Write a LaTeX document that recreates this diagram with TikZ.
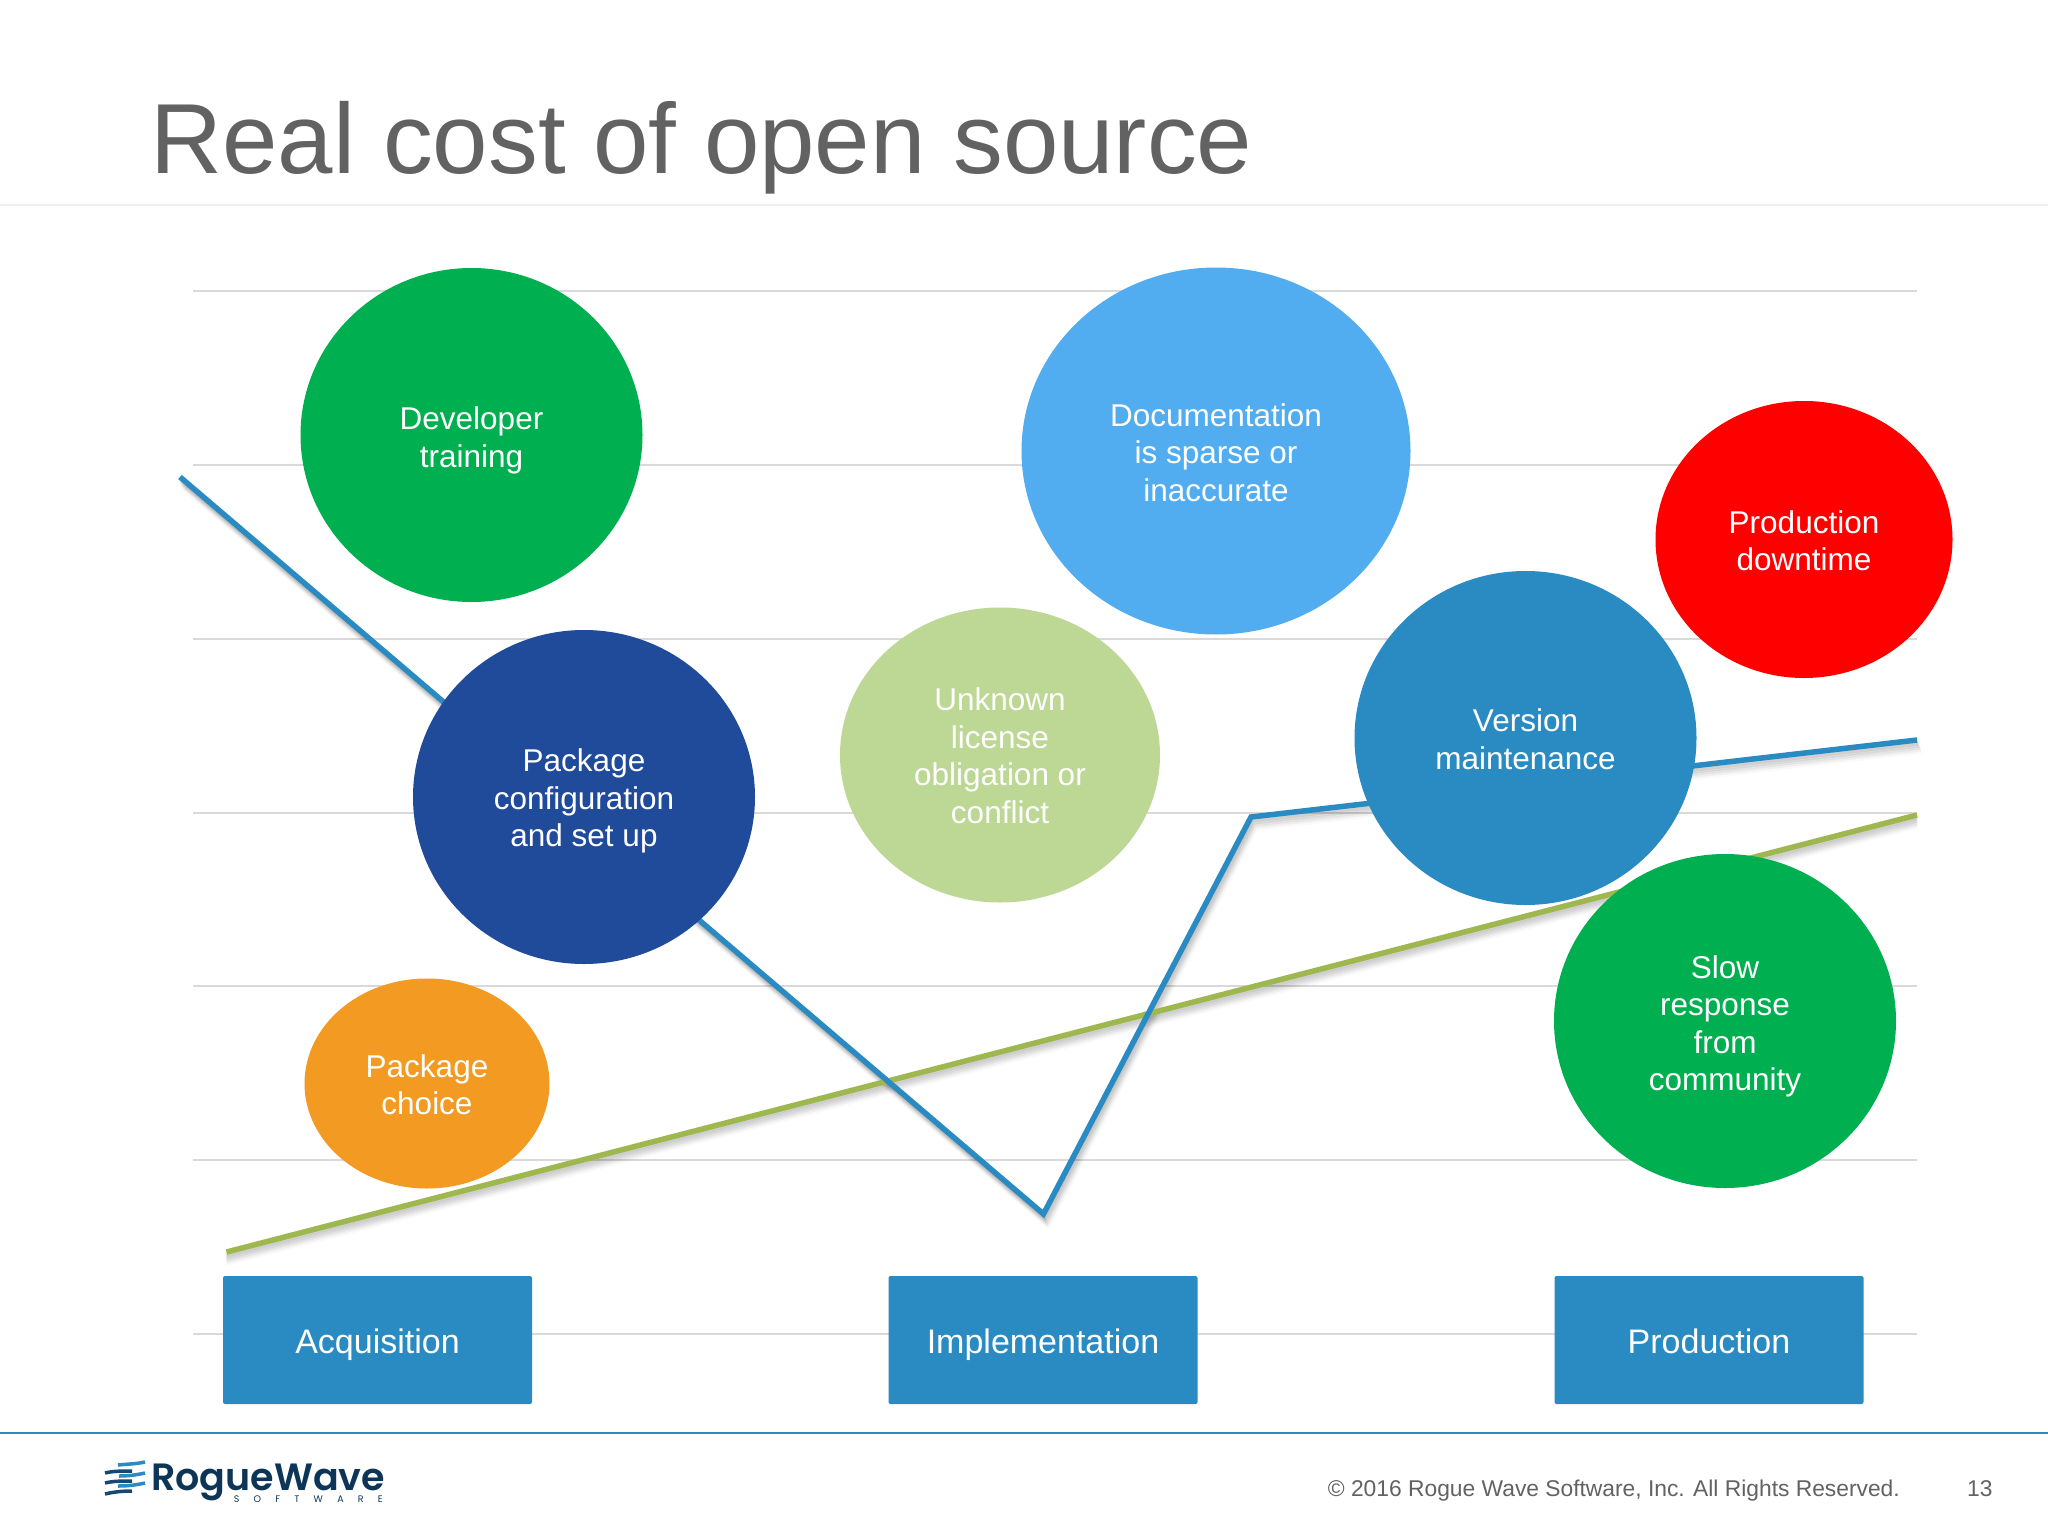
\documentclass[tikz,border=0pt]{standalone}
\usepackage{fontspec}
\usepackage{xcolor}
\usetikzlibrary{shapes.geometric}
\setmainfont{Liberation Sans}
\newfontfamily\logofont[BoldFont={Poppins SemiBold}]{Poppins}
\newfontfamily\logosmall[LetterSpace=150]{Poppins}
\definecolor{titlegray}{HTML}{626262}
\definecolor{rulegray}{HTML}{D9D9D9}
\definecolor{wavebar}{HTML}{2A8BC3}
\definecolor{wavedark}{HTML}{0D3557}
\definecolor{trendgreen}{HTML}{9EB84F}
\definecolor{bubblegreen}{HTML}{00B050}
\definecolor{bubblenavy}{HTML}{204A9A}
\definecolor{bubbleorange}{HTML}{F39A23}
\definecolor{bubblelime}{HTML}{BDD795}
\definecolor{bubblesky}{HTML}{51ACF0}
% taller first line, pushes a bubble's text down a little
\newcommand{\topstrut}[1]{\rule{0pt}{#1pt}}
\tikzset{
  bubble/.style={ellipse,inner sep=0pt,text=white,align=center,
    font=\fontsize{31.5}{37.5}\selectfont},
  stagebox/.style={rectangle,rounded corners=2pt,fill=wavebar,text=white,inner sep=0pt,
    text height=30pt,text depth=4pt,
    minimum width=309pt,minimum height=128pt,font=\fontsize{34}{40}\selectfont},
  gridrule/.style={rulegray,line width=2pt},
  trendline/.style={line width=5.5pt,line join=miter},
  footertext/.style={text=titlegray,inner sep=0pt,font=\fontsize{22.8}{26}\selectfont},
  wavelight/.style={wavebar,line width=3.5pt},
  wavedeep/.style={wavedark!75!wavebar,line width=3.5pt}
}
\begin{document}
\begin{tikzpicture}[x=1pt,y=-1pt]
  \useasboundingbox (0,0) rectangle (2048,1536);
  \fill[white] (0,0) rectangle (2048,1536);
  % title and the rule under it
  \node[anchor=base west,inner sep=0pt,text=titlegray,font=\fontsize{99.6}{110}\selectfont] (title) at (150.5,173) {Real cost of open source};
  \draw[gray!12,line width=2pt] (0,205) -- (2048,205);
  % chart rules
  \foreach \y in {291,464.5,639,812.5,986,1160,1333.5}
    \draw[gridrule] (193,\y) -- (1917,\y);
  % points of the two trend lines
  \coordinate (greenstart) at (226.5,1252);
  \coordinate (greenend) at (1917,815);
  \coordinate (bluestart) at (180,477);
  \coordinate (bluelow) at (1043.5,1214);
  \coordinate (bluekink) at (1251,817);
  \coordinate (blueend) at (1917,740);
  % soft shadows, then the lines
  \foreach \drop/\fade in {1.5/.05,3/.07,5/.07,7/.05,9/.04,11/.02} {
    \draw[trendline,black,opacity=\fade,transform canvas={yshift=-\drop pt}] (greenstart) -- (greenend);
    \draw[trendline,black,opacity=\fade,transform canvas={yshift=-\drop pt,xshift=.4*\drop pt}] (bluestart) -- (bluelow) -- (bluekink) -- (blueend);
  }
  \draw[trendline,trendgreen] (greenstart) -- (greenend);
  \draw[trendline,wavebar] (bluestart) -- (bluelow) -- (bluekink) -- (blueend);
  % bubbles
  \node[bubble,fill=bubblegreen,minimum width=342pt,minimum height=334pt] (training) at (471.5,435) {\topstrut{33.4}Developer\\training};
  \node[bubble,fill=bubblenavy,minimum width=342pt,minimum height=334pt] (config) at (584,797) {\topstrut{30.8}Package\\configuration\\and set up};
  \node[bubble,fill=bubbleorange,minimum width=245pt,minimum height=210pt] (choice) at (427,1083.5) {\topstrut{25.6}Package\\choice};
  \node[bubble,fill=bubblelime,minimum width=320pt,minimum height=295pt] (license) at (1000,755) {\topstrut{24.3}Unknown\\license\\obligation or\\conflict};
  \node[bubble,fill=bubblesky,minimum width=389pt,minimum height=367pt] (docs) at (1216,451) {\topstrut{25.6}Documentation\\is sparse or\\inaccurate};
  \node[bubble,fill=red,minimum width=297pt,minimum height=277pt] (downtime) at (1804,539.5) {\topstrut{25.6}Production\\downtime};
  \node[bubble,fill=wavebar,minimum width=342pt,minimum height=334pt] (version) at (1525.5,738) {\topstrut{25.6}Version\\maintenance};
  \node[bubble,fill=bubblegreen,minimum width=342pt,minimum height=334pt] (community) at (1725,1021) {\topstrut{33.4}Slow\\response\\from\\community};
  % stages
  \node[stagebox] (acquisition) at (377.5,1340) {Acquisition};
  \node[stagebox] (implementation) at (1043,1340) {Implementation};
  \node[stagebox] (production) at (1709,1340) {Production};
  % footer
  \draw[wavebar,line width=2pt] (0,1433) -- (2048,1433);
  \node[footertext,anchor=base east] (copyright) at (1900,1496) {\textcopyright{} 2016 Rogue Wave Software, Inc. All Rights Reserved.};
  \node[footertext,anchor=base west] (pagenumber) at (1967,1496) {13};
  % logo
  \draw[wavelight] (118,1465) .. controls (128,1464) and (136,1464) .. (145,1462);
  \draw[wavedeep] (105,1473) .. controls (113,1471) and (122,1471) .. (132,1471);
  \draw[wavelight] (119,1476) .. controls (128,1476) and (136,1475) .. (145,1473);
  \draw[wavedeep] (105,1483) .. controls (113,1481) and (122,1481) .. (132,1481);
  \draw[wavelight] (118,1486) .. controls (128,1486) and (136,1485) .. (145,1483);
  \draw[wavedeep] (105,1494) .. controls (113,1492) and (122,1491) .. (132,1491);
  \node[anchor=base west,inner sep=0pt,text=wavedark,font=\logofont\bfseries\fontsize{38}{40}\selectfont] (roguewave) at (151,1490) {RogueWave};
  \node[anchor=base east,inner sep=0pt,text=wavedark,font=\logosmall\fontsize{9.5}{10}\selectfont] (software) at (383,1502) {SOFTWARE};
\end{tikzpicture}
\end{document}
